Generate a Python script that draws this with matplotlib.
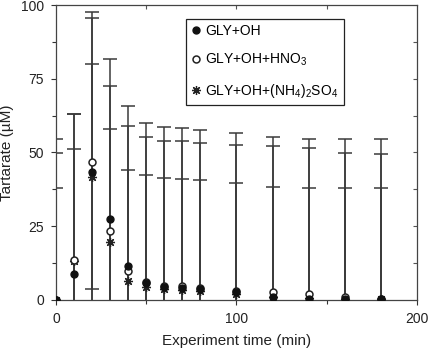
import matplotlib
matplotlib.use("Agg")
import matplotlib.pyplot as plt
import numpy as np

plt.rcParams['font.family'] = ['Liberation Sans', 'DejaVu Sans']
plt.rcParams['mathtext.default'] = 'regular'

times = [0, 10, 20, 30, 40, 50, 60, 70, 80, 100, 120, 140, 160, 180]

gly_oh = [0.0, 8.7, 43.5, 27.4, 11.5, 5.5, 4.3, 4.0, 3.5, 2.4, 1.0, 0.3, 0.3, 0.3]
gly_oh_err = [54.7, 54.3, 54.3, 54.5, 54.3, 54.4, 54.5, 54.3, 54.3, 54.3, 54.3, 54.3, 54.3, 54.3]

gly_oh_hno3 = [0.0, 13.3, 46.7, 23.3, 9.6, 5.8, 4.7, 4.5, 4.0, 3.0, 2.6, 2.0, 0.8, 0.3]
gly_oh_hno3_err = [49.7, 49.7, 49.0, 49.2, 49.4, 49.5, 49.3, 49.3, 49.1, 49.7, 49.7, 49.5, 49.1, 49.1]

gly_oh_nh4 = [0.0, 13.1, 41.8, 19.7, 6.3, 4.2, 3.5, 3.3, 2.8, 2.0, 1.0, 0.5, 0.3, 0.2]
gly_oh_nh4_err = [37.8, 38.0, 38.2, 38.3, 37.9, 38.2, 37.9, 37.6, 37.8, 37.5, 37.2, 37.5, 37.5, 37.6]

labels = ['GLY+OH', 'GLY+OH+HNO$_3$', 'GLY+OH+(NH$_4$)$_2$SO$_4$']

fig = plt.figure(figsize=(4.29, 3.49), dpi=100)
ax = fig.add_axes([0.1305, 0.1418, 0.8415, 0.8425])

ecol = '#3a3a3a'
series = [(gly_oh, gly_oh_err), (gly_oh_hno3, gly_oh_hno3_err), (gly_oh_nh4, gly_oh_nh4_err)]
for vals, err in series:
    ax.errorbar(times, vals, yerr=err, fmt='none', ecolor=ecol, elinewidth=1.1,
                capsize=5, capthick=1.1, zorder=2)

ax.plot(times, gly_oh_nh4, linestyle='none', marker=(8, 2, 0), markersize=6.5,
        color='#222222', markeredgewidth=0.9, zorder=3, label=labels[2])
ax.plot(times, gly_oh_hno3, linestyle='none', marker='o', markersize=5,
        markerfacecolor='white', markeredgecolor='#222222', markeredgewidth=1.1,
        zorder=4, label=labels[1])
ax.plot(times, gly_oh, linestyle='none', marker='o', markersize=5,
        color='#111111', zorder=5, label=labels[0])

ax.set_xlim(0, 200)
ax.set_ylim(0, 100)
ax.set_xticks([0, 100, 200])
ax.set_xticks([50, 150], minor=True)
ax.set_yticks([0, 25, 50, 75, 100])
ax.set_yticks([12.5, 37.5, 62.5, 87.5], minor=True)
ax.tick_params(axis='both', which='major', direction='out', length=3.5, width=0.8,
               labelsize=10, colors='#333333', labelcolor='#222222')
ax.tick_params(axis='x', which='major', pad=5.5)
ax.tick_params(axis='y', which='major', pad=5)
ax.tick_params(axis='both', which='minor', direction='out', length=3, width=0.8,
               colors='#333333')
for s in ax.spines.values():
    s.set_color('#444444')
    s.set_linewidth(0.9)

sec_y = ax.secondary_yaxis('right')
sec_y.set_yticks([12.5, 25, 37.5, 50, 62.5, 75, 87.5])
sec_y.tick_params(direction='in', length=3, width=0.8, labelright=False, colors='#555555')
sec_y.spines['right'].set_visible(False)
sec_x = ax.secondary_xaxis('top')
sec_x.set_xticks([50, 100, 150])
sec_x.tick_params(direction='in', length=3, width=0.8, labeltop=False, colors='#555555')
sec_x.spines['top'].set_visible(False)

ax.set_xlabel('Experiment time (min)', fontsize=11, color='#222222')
ax.set_ylabel('Tartarate (\u00b5M)', fontsize=11, color='#222222')
ax.xaxis.set_label_coords(0.5, -0.118)
ax.yaxis.set_label_coords(-0.115, 0.5)

handles, labs = ax.get_legend_handles_labels()
order = [2, 1, 0]
leg = ax.legend([handles[i] for i in order], [labs[i] for i in order],
                loc='upper left', bbox_to_anchor=(0.36, 0.954), borderaxespad=0,
                fontsize=10, frameon=True, fancybox=False, edgecolor='#222222',
                labelspacing=0.98, handlelength=0.7, handletextpad=0.3,
                borderpad=0.38, framealpha=1)
leg.get_frame().set_linewidth(0.9)

fig.savefig('out.png', dpi=100)
